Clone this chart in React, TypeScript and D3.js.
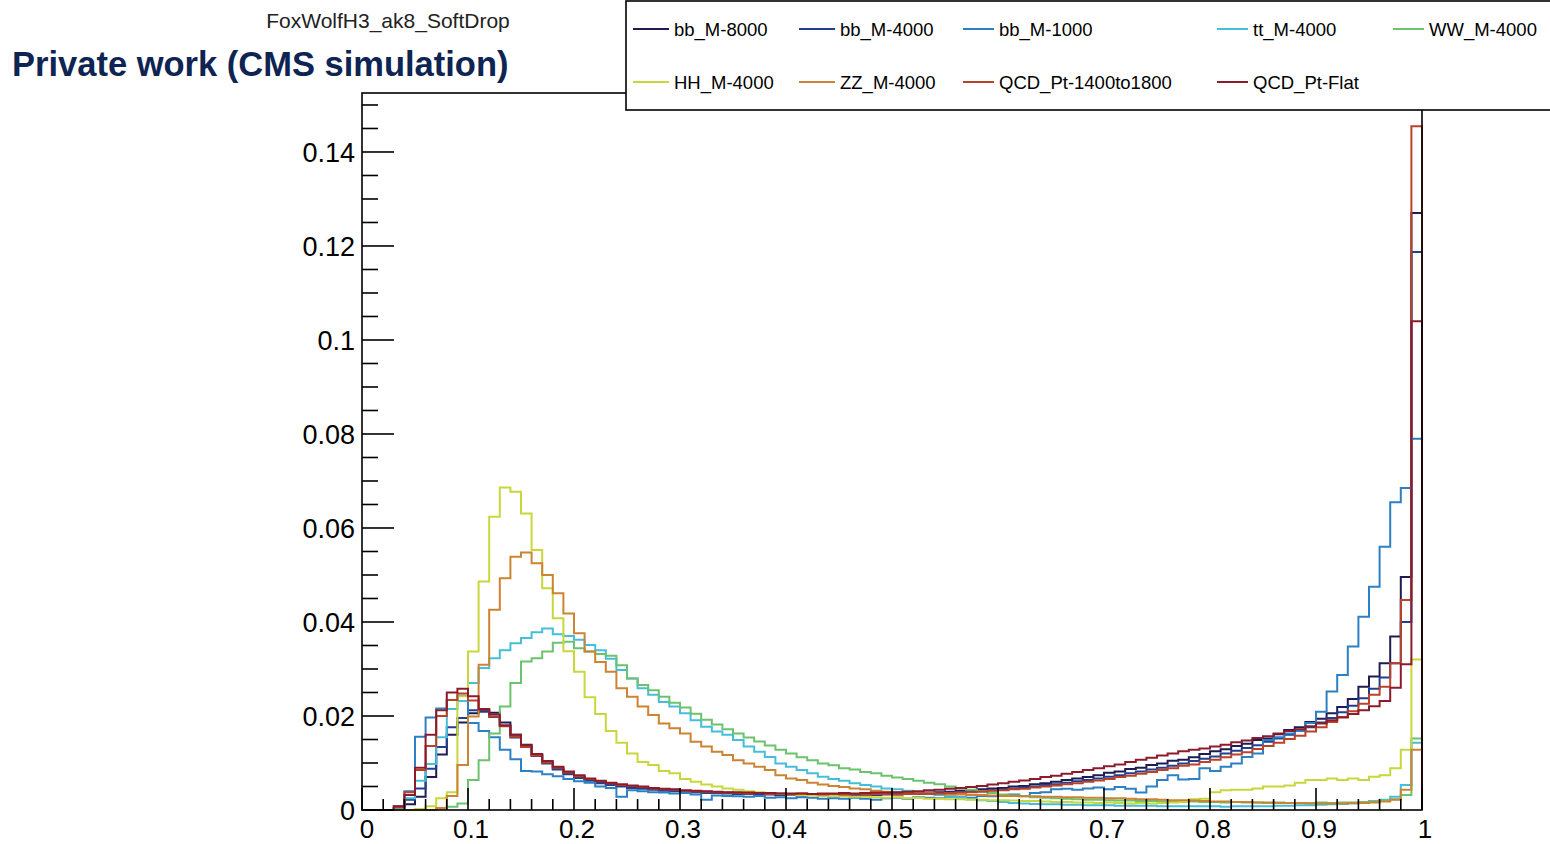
import React from 'react';
import * as d3 from 'd3';

// ---------- DATA ----------
const seriesNames = ['bb_M-8000', 'bb_M-4000', 'bb_M-1000', 'tt_M-4000', 'WW_M-4000', 'HH_M-4000', 'ZZ_M-4000', 'QCD_Pt-1400to1800', 'QCD_Pt-Flat'];
const seriesColors = ['#1e1c52', '#203f8c', '#2d80c4', '#45bfd9', '#6cc26e', '#c8d83c', '#cc8333', '#bb4128', '#8c1c2c'];

const bb8000 = [
  0, 0, 0, 0.0002, 0.0012, 0.0028, 0.0070, 0.0118, 0.0160, 0.0186,
  0.0206, 0.0213, 0.0207, 0.0186, 0.0160, 0.0139, 0.0118, 0.0101, 0.0087, 0.0078,
  0.0070, 0.0064, 0.0059, 0.0055, 0.0052, 0.0049, 0.0047, 0.0045, 0.0043, 0.0042,
  0.0040, 0.0039, 0.0038, 0.0037, 0.0036, 0.0037, 0.0035, 0.0034, 0.0035, 0.0033,
  0.0034, 0.0033, 0.0032, 0.0034, 0.0033, 0.0032, 0.0034, 0.0033, 0.0035, 0.0034,
  0.0035, 0.0036, 0.0035, 0.0037, 0.0038, 0.0039, 0.0041, 0.0042, 0.0044, 0.0046,
  0.0047, 0.0050, 0.0051, 0.0055, 0.0057, 0.0060, 0.0064, 0.0067, 0.0070, 0.0074,
  0.0079, 0.0082, 0.0087, 0.0090, 0.0096, 0.0099, 0.0105, 0.0107, 0.0112, 0.0119,
  0.0125, 0.0129, 0.0136, 0.0141, 0.0149, 0.0152, 0.0161, 0.0170, 0.0176, 0.0187,
  0.0194, 0.0206, 0.0219, 0.0236, 0.0262, 0.0284, 0.0312, 0.0369, 0.0496, 0.1270,
];
const bb4000 = [
  0, 0, 0, 0.0004, 0.0022, 0.0046, 0.0088, 0.0134, 0.0176, 0.0196,
  0.0212, 0.0209, 0.0198, 0.0180, 0.0154, 0.0134, 0.0115, 0.0099, 0.0086, 0.0076,
  0.0068, 0.0062, 0.0057, 0.0053, 0.0050, 0.0047, 0.0045, 0.0043, 0.0041, 0.0040,
  0.0039, 0.0038, 0.0036, 0.0036, 0.0035, 0.0034, 0.0034, 0.0033, 0.0033, 0.0032,
  0.0032, 0.0031, 0.0032, 0.0031, 0.0031, 0.0032, 0.0031, 0.0032, 0.0032, 0.0033,
  0.0033, 0.0034, 0.0034, 0.0035, 0.0036, 0.0037, 0.0038, 0.0039, 0.0041, 0.0042,
  0.0044, 0.0046, 0.0048, 0.0050, 0.0053, 0.0055, 0.0058, 0.0061, 0.0064, 0.0067,
  0.0071, 0.0074, 0.0078, 0.0082, 0.0086, 0.0090, 0.0094, 0.0099, 0.0104, 0.0109,
  0.0114, 0.0120, 0.0126, 0.0132, 0.0138, 0.0145, 0.0152, 0.0160, 0.0168, 0.0176,
  0.0186, 0.0196, 0.0208, 0.0222, 0.0238, 0.0258, 0.0282, 0.0312, 0.0400, 0.1187,
];
const bb1000 = [
  0, 0, 0, 0.0008, 0.0040, 0.0156, 0.0197, 0.0216, 0.0234, 0.0243,
  0.0185, 0.0168, 0.0155, 0.0128, 0.0108, 0.0083, 0.0082, 0.0076, 0.0072, 0.0066,
  0.0061, 0.0058, 0.0050, 0.0047, 0.0028, 0.0042, 0.0040, 0.0038, 0.0037, 0.0035,
  0.0036, 0.0033, 0.0022, 0.0031, 0.0030, 0.0029, 0.0028, 0.0030, 0.0026, 0.0027,
  0.0025, 0.0027, 0.0026, 0.0024, 0.0025, 0.0024, 0.0026, 0.0024, 0.0022, 0.0025,
  0.0026, 0.0024, 0.0027, 0.0026, 0.0025, 0.0028, 0.0027, 0.0026, 0.0030, 0.0029,
  0.0031, 0.0033, 0.0030, 0.0036, 0.0038, 0.0044, 0.0045, 0.0043, 0.0046, 0.0048,
  0.0044, 0.0049, 0.0045, 0.0037, 0.0050, 0.0064, 0.0074, 0.0065, 0.0066, 0.0089,
  0.0083, 0.0092, 0.0099, 0.0113, 0.0120, 0.0149, 0.0155, 0.0163, 0.0168, 0.0185,
  0.0209, 0.0252, 0.0287, 0.0348, 0.0411, 0.0475, 0.0560, 0.0655, 0.0685, 0.0790,
];
const tt4000 = [
  0, 0, 0, 0.0002, 0.0025, 0.0062, 0.0098, 0.0155, 0.0215, 0.0232,
  0.0270, 0.0302, 0.0323, 0.0340, 0.0355, 0.0366, 0.0378, 0.0386, 0.0374, 0.0370,
  0.0362, 0.0351, 0.0340, 0.0322, 0.0298, 0.0280, 0.0259, 0.0245, 0.0230, 0.0220,
  0.0206, 0.0191, 0.0177, 0.0167, 0.0160, 0.0149, 0.0135, 0.0124, 0.0113, 0.0099,
  0.0092, 0.0085, 0.0078, 0.0071, 0.0066, 0.0062, 0.0057, 0.0053, 0.0050, 0.0046,
  0.0044, 0.0041, 0.0038, 0.0035, 0.0032, 0.0029, 0.0026, 0.0023, 0.0021, 0.0019,
  0.0017, 0.0015, 0.0014, 0.0013, 0.0012, 0.0012, 0.0011, 0.0011, 0.0010, 0.0010,
  0.0010, 0.0009, 0.0009, 0.0009, 0.0009, 0.0008, 0.0008, 0.0008, 0.0008, 0.0008,
  0.0008, 0.0007, 0.0008, 0.0008, 0.0008, 0.0008, 0.0009, 0.0009, 0.0010, 0.0010,
  0.0011, 0.0012, 0.0013, 0.0014, 0.0016, 0.0019, 0.0022, 0.0028, 0.0053, 0.0143,
];
const ww4000 = [
  0, 0, 0, 0, 0, 0, 0, 0.0003, 0.0007, 0.0014,
  0.0064, 0.0106, 0.0163, 0.0220, 0.0270, 0.0316, 0.0323, 0.0337, 0.0356, 0.0358,
  0.0344, 0.0337, 0.0332, 0.0328, 0.0308, 0.0280, 0.0266, 0.0255, 0.0241, 0.0228,
  0.0218, 0.0205, 0.0192, 0.0182, 0.0172, 0.0163, 0.0154, 0.0146, 0.0137, 0.0128,
  0.0120, 0.0112, 0.0106, 0.0099, 0.0095, 0.0089, 0.0086, 0.0081, 0.0078, 0.0073,
  0.0069, 0.0066, 0.0062, 0.0058, 0.0055, 0.0050, 0.0046, 0.0043, 0.0040, 0.0036,
  0.0033, 0.0031, 0.0029, 0.0027, 0.0026, 0.0025, 0.0024, 0.0023, 0.0022, 0.0022,
  0.0021, 0.0020, 0.0020, 0.0019, 0.0019, 0.0018, 0.0019, 0.0018, 0.0018, 0.0017,
  0.0017, 0.0016, 0.0017, 0.0016, 0.0016, 0.0015, 0.0016, 0.0015, 0.0015, 0.0015,
  0.0016, 0.0015, 0.0016, 0.0016, 0.0017, 0.0018, 0.0020, 0.0023, 0.0032, 0.0152,
];
const hh4000 = [
  0, 0, 0, 0, 0, 0.0002, 0.0008, 0.0025, 0.0038, 0.0242,
  0.0337, 0.0486, 0.0624, 0.0686, 0.0677, 0.0631, 0.0553, 0.0472, 0.0408, 0.0338,
  0.0294, 0.0240, 0.0204, 0.0168, 0.0143, 0.0120, 0.0102, 0.0096, 0.0083, 0.0078,
  0.0066, 0.0060, 0.0054, 0.0050, 0.0046, 0.0043, 0.0040, 0.0038, 0.0036, 0.0034,
  0.0033, 0.0032, 0.0031, 0.0030, 0.0030, 0.0029, 0.0028, 0.0028, 0.0027, 0.0026,
  0.0027, 0.0025, 0.0026, 0.0024, 0.0024, 0.0023, 0.0023, 0.0022, 0.0022, 0.0021,
  0.0021, 0.0020, 0.0019, 0.0019, 0.0018, 0.0017, 0.0017, 0.0016, 0.0016, 0.0015,
  0.0016, 0.0015, 0.0014, 0.0015, 0.0014, 0.0015, 0.0016, 0.0017, 0.0023, 0.0024,
  0.0038, 0.0042, 0.0043, 0.0043, 0.0046, 0.0050, 0.0050, 0.0052, 0.0058, 0.0064,
  0.0064, 0.0067, 0.0064, 0.0067, 0.0064, 0.0071, 0.0074, 0.0089, 0.0128, 0.0320,
];
const zz4000 = [
  0, 0, 0, 0, 0, 0, 0, 0.0004, 0.0030, 0.0096,
  0.0199, 0.0309, 0.0426, 0.0493, 0.0539, 0.0548, 0.0525, 0.0500, 0.0461, 0.0418,
  0.0376, 0.0337, 0.0315, 0.0294, 0.0259, 0.0241, 0.0220, 0.0202, 0.0184, 0.0174,
  0.0163, 0.0145, 0.0135, 0.0124, 0.0117, 0.0106, 0.0099, 0.0092, 0.0085, 0.0074,
  0.0067, 0.0064, 0.0058, 0.0054, 0.0051, 0.0049, 0.0046, 0.0044, 0.0041, 0.0039,
  0.0038, 0.0036, 0.0035, 0.0035, 0.0034, 0.0033, 0.0033, 0.0032, 0.0032, 0.0031,
  0.0030, 0.0030, 0.0029, 0.0029, 0.0028, 0.0028, 0.0027, 0.0027, 0.0026, 0.0026,
  0.0025, 0.0025, 0.0024, 0.0023, 0.0023, 0.0022, 0.0021, 0.0021, 0.0020, 0.0019,
  0.0018, 0.0018, 0.0017, 0.0017, 0.0016, 0.0016, 0.0015, 0.0015, 0.0015, 0.0014,
  0.0014, 0.0014, 0.0014, 0.0015, 0.0015, 0.0016, 0.0018, 0.0022, 0.0043, 0.0128,
];
const qcd1400 = [
  0, 0, 0, 0.0006, 0.0038, 0.0085, 0.0136, 0.0200, 0.0234, 0.0248,
  0.0233, 0.0214, 0.0199, 0.0178, 0.0156, 0.0134, 0.0116, 0.0101, 0.0090, 0.0080,
  0.0072, 0.0066, 0.0061, 0.0057, 0.0053, 0.0051, 0.0049, 0.0046, 0.0044, 0.0043,
  0.0041, 0.0040, 0.0039, 0.0038, 0.0037, 0.0036, 0.0035, 0.0036, 0.0034, 0.0035,
  0.0034, 0.0035, 0.0034, 0.0033, 0.0034, 0.0033, 0.0034, 0.0033, 0.0034, 0.0034,
  0.0033, 0.0034, 0.0035, 0.0034, 0.0035, 0.0036, 0.0037, 0.0038, 0.0039, 0.0041,
  0.0042, 0.0044, 0.0045, 0.0048, 0.0050, 0.0052, 0.0055, 0.0057, 0.0060, 0.0063,
  0.0066, 0.0070, 0.0073, 0.0077, 0.0081, 0.0085, 0.0089, 0.0094, 0.0097, 0.0102,
  0.0107, 0.0112, 0.0118, 0.0123, 0.0130, 0.0136, 0.0143, 0.0151, 0.0158, 0.0167,
  0.0176, 0.0187, 0.0198, 0.0210, 0.0226, 0.0245, 0.0262, 0.0312, 0.0447, 0.1455,
];
const qcdFlat = [
  0, 0, 0, 0.0008, 0.0032, 0.0090, 0.0160, 0.0212, 0.0250, 0.0258,
  0.0242, 0.0215, 0.0203, 0.0180, 0.0160, 0.0138, 0.0119, 0.0104, 0.0092, 0.0082,
  0.0074, 0.0067, 0.0062, 0.0058, 0.0055, 0.0052, 0.0050, 0.0047, 0.0045, 0.0044,
  0.0042, 0.0041, 0.0040, 0.0039, 0.0038, 0.0037, 0.0037, 0.0036, 0.0036, 0.0035,
  0.0035, 0.0035, 0.0034, 0.0035, 0.0035, 0.0036, 0.0035, 0.0036, 0.0037, 0.0037,
  0.0038, 0.0039, 0.0040, 0.0042, 0.0043, 0.0045, 0.0047, 0.0049, 0.0051, 0.0054,
  0.0057, 0.0060, 0.0063, 0.0066, 0.0070, 0.0073, 0.0077, 0.0081, 0.0085, 0.0089,
  0.0093, 0.0097, 0.0102, 0.0107, 0.0111, 0.0116, 0.0120, 0.0125, 0.0128, 0.0131,
  0.0135, 0.0139, 0.0144, 0.0148, 0.0153, 0.0157, 0.0163, 0.0168, 0.0172, 0.0178,
  0.0184, 0.0191, 0.0197, 0.0204, 0.0212, 0.0221, 0.0232, 0.0260, 0.0310, 0.1040,
];
const seriesValues = [bb8000, bb4000, bb1000, tt4000, ww4000, hh4000, zz4000, qcd1400, qcdFlat];

const xTickLabels = ['0', '0.1', '0.2', '0.3', '0.4', '0.5', '0.6', '0.7', '0.8', '0.9', '1'];
const yTickLabels = ['0', '0.02', '0.04', '0.06', '0.08', '0.1', '0.12', '0.14'];
const titleText = 'FoxWolfH3_ak8_SoftDrop';
const cmsText = 'Private work (CMS simulation)';

// ---------- LAYOUT ----------
const W = 1550;
const H = 844;
const X0 = 362, X1 = 1422, Y0 = 810, Y1 = 93;
const YMAX = 0.15255;
const FONT = '"Liberation Sans", Arial, Helvetica, sans-serif';

const legendCols = [633, 799, 963, 1217, 1393];
const legendRows = [29, 82];

export default function App() {
  const x = d3.scaleLinear().domain([0, 1]).range([X0, X1]);
  const y = d3.scaleLinear().domain([0, YMAX]).range([Y0, Y1]);
  const nb = 100;

  const line = d3.line<[number, number]>()
    .x(d => x(d[0]))
    .y(d => y(d[1]))
    .curve(d3.curveStepAfter);

  const paths = seriesValues.map(vals => {
    const pts: [number, number][] = [[0, 0]];
    vals.forEach((v, i) => pts.push([i / nb, v]));
    pts.push([1, vals[vals.length - 1]]);
    pts.push([1, 0]);
    return line(pts) as string;
  });

  const xMinor = d3.range(0, 51).map(i => i / 50);
  const yMinor = d3.range(0, 31).map(i => i * 0.005);

  return (
    <svg width={W} height={H} style={{ position: 'absolute', left: 0, top: 0, background: '#fff' }}
      fontFamily={FONT}>
      <rect x={0} y={0} width={W} height={H} fill="#fff" />
      {/* histograms */}
      <g fill="none" strokeWidth={2} strokeLinejoin="miter">
        {paths.map((p, i) => (
          <path key={i} d={p} stroke={seriesColors[i]} />
        ))}
      </g>
      {/* frame */}
      <rect x={X0} y={Y1} width={X1 - X0} height={Y0 - Y1} fill="none" stroke="#000" strokeWidth={1.6} />
      {/* ticks */}
      <g stroke="#000" strokeWidth={1.6}>
        {xMinor.map((t, i) => {
          const major = i % 5 === 0;
          return <line key={i} x1={x(t)} x2={x(t)} y1={Y0} y2={Y0 - (major ? 22 : 11)} />;
        })}
        {yMinor.map((t, i) => {
          const major = i % 4 === 0;
          return <line key={i} x1={X0} x2={X0 + (major ? 32 : 16)} y1={y(t)} y2={y(t)} />;
        })}
      </g>
      {/* x tick labels */}
      <g fontSize={26} fill="#000" textAnchor="middle">
        {xTickLabels.map((l, i) => (
          <text key={i} x={x(i / 10) + (i === 0 ? 5 : 3)} y={838}>{l}</text>
        ))}
      </g>
      <g fontSize={27} fill="#000" textAnchor="end">
        {yTickLabels.map((l, i) => (
          <text key={i} x={355} y={y(i * 0.02) + 10}>{l}</text>
        ))}
      </g>
      {/* title */}
      <text x={388} y={28} fontSize={21} textAnchor="middle" fill="#222">{titleText}</text>
      <text x={12} y={76} fontSize={34.5} fontWeight="bold" fill="#0e2452">{cmsText}</text>
      {/* legend */}
      <rect x={626} y={1} width={960} height={109} fill="#fff" stroke="#000" strokeWidth={1.6} />
      {seriesNames.map((name, i) => {
        const col = i < 5 ? i : i - 5;
        const row = i < 5 ? 0 : 1;
        const lx = legendCols[col];
        const ly = legendRows[row];
        const len = col === 2 || col === 3 || col === 4 ? 31 : 36;
        return (
          <g key={name}>
            <line x1={lx} x2={lx + len} y1={ly} y2={ly} stroke={seriesColors[i]} strokeWidth={2} />
            <text x={lx + len + 5} y={ly + 7} fontSize={18.5} fill="#000">{name}</text>
          </g>
        );
      })}
    </svg>
  );
}
